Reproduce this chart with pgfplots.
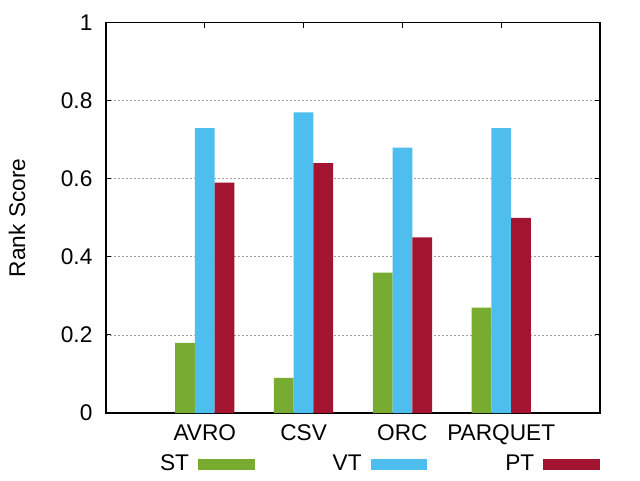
\documentclass[border=0pt]{standalone}
\usepackage{fontspec}
\setmainfont{Liberation Sans}
\usepackage{pgfplots}
\pgfplotsset{compat=1.18}
\definecolor{cST}{RGB}{119,172,48}
\definecolor{cVT}{RGB}{77,190,238}
\definecolor{cPT}{RGB}{162,20,47}
\begin{document}
\begin{tikzpicture}
\useasboundingbox (-79.5pt,-50.25pt) rectangle (400.5pt,309.75pt);
\begin{axis}[
  at={(0pt,0pt)}, anchor=south west,
  scale only axis, width=370.5pt, height=292.7pt,
  xmin=-1, xmax=4, ymin=0, ymax=1,
  xtick={0,1,2,3}, xticklabels={AVRO,CSV,ORC,PARQUET},
  ytick={0,0.2,0.4,0.6,0.8,1},
  yticklabels={0,0.2,0.4,0.6,0.8,1},
  tick align=inside, major tick length=3.75pt,
  axis line style={line width=0.8pt},
  every tick/.style={black, line width=0.75pt},
  ymajorgrids,
  grid style={gray!75, line width=0.6pt, dash pattern=on 1.5pt off 1.5pt},
  font=\fontsize{17}{20}\selectfont,
  xticklabel style={anchor=north, inner sep=0pt, yshift=-8.5pt},
  yticklabel style={anchor=east, inner sep=0pt, xshift=-10pt},
  ylabel={Rank Score},
  ylabel style={at={(axis description cs:0,0.5)}, anchor=center, yshift=66.75pt},
  legend columns=3,
  legend plot pos=right,
  legend style={draw=none, fill=none, at={(axis description cs:1,0)}, anchor=east,
    yshift=-38.25pt, inner sep=0pt, outer sep=0pt, nodes={inner sep=0pt},
    /tikz/every odd column/.append style={column sep=6.75pt},
    /tikz/every even column/.append style={column sep=58.5pt}},
]
\addplot[ybar, bar width=0.2, bar shift=-0.2, fill=cST, draw=none,
  legend image code/.code={\fill[cST] (0pt,-4.125pt) rectangle (42.5pt,4.125pt);}]
  coordinates {(0,0.18) (1,0.09) (2,0.36) (3,0.27)};
\addlegendentry{ST}
\addplot[ybar, bar width=0.2, bar shift=0, fill=cVT, draw=none,
  legend image code/.code={\fill[cVT] (0pt,-4.125pt) rectangle (42.5pt,4.125pt);}]
  coordinates {(0,0.73) (1,0.77) (2,0.68) (3,0.73)};
\addlegendentry{VT}
\addplot[ybar, bar width=0.2, bar shift=0.2, fill=cPT, draw=none,
  legend image code/.code={\fill[cPT] (0pt,-4.125pt) rectangle (42.5pt,4.125pt);}]
  coordinates {(0,0.59) (1,0.64) (2,0.45) (3,0.50)};
\addlegendentry{PT}
\end{axis}
\end{tikzpicture}
\end{document}
